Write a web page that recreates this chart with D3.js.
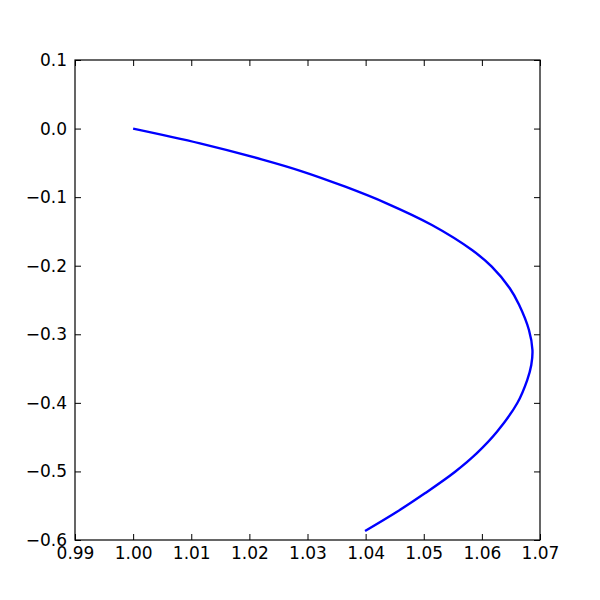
<!DOCTYPE html>
<html>
<head>
<meta charset="utf-8">
<script src="https://cdn.jsdelivr.net/npm/d3@7"></script>
<style>
  body { margin: 0; background: #fff; }
  svg text { font-family: "DejaVu Sans", sans-serif; }
</style>
</head>
<body>
<div id="chart"></div>
<script>
// Puntos (x, y)
const curveX = [1.0000, 1.0115, 1.0221, 1.0289, 1.0365, 1.0436, 1.0514, 1.0583, 1.0617, 1.0648, 1.0664,
                1.0681, 1.0687, 1.0685, 1.0678, 1.0661, 1.0626, 1.0591, 1.0554, 1.0502, 1.0454, 1.0399];
const curveY = [0.0000, -0.0215, -0.0448, -0.0619, -0.0848, -0.1090, -0.1406, -0.1771, -0.2014, -0.2329, -0.2570,
                -0.2938, -0.3229, -0.3448, -0.3667, -0.4002, -0.4421, -0.4736, -0.5004, -0.5319, -0.5588, -0.5869];
const xTicks = [0.99, 1.00, 1.01, 1.02, 1.03, 1.04, 1.05, 1.06, 1.07];
const yTicks = [0.1, 0.0, -0.1, -0.2, -0.3, -0.4, -0.5, -0.6];

const W = 600, H = 600;
const margin = { top: 60, right: 60, bottom: 60, left: 75 };
const width = W - margin.left - margin.right;
const height = H - margin.top - margin.bottom;

const svg = d3.select('#chart').append('svg')
    .attr('width', W).attr('height', H);

const g = svg.append('g')
    .attr('transform', `translate(${margin.left},${margin.top})`);

const x = d3.scaleLinear().domain([0.99, 1.07]).range([0, width]);
const y = d3.scaleLinear().domain([-0.6, 0.1]).range([height, 0]);

const tickLen = 6;

// Ejes con ticks hacia dentro
const xFmt = d3.format('.2f'), yFmt = d3.format('.1f');

const xb = g.append('g').attr('transform', `translate(0,${height})`)
    .call(d3.axisBottom(x).tickValues(xTicks).tickFormat(xFmt).tickSizeInner(-tickLen).tickSizeOuter(0).tickPadding(7));
const xt = g.append('g')
    .call(d3.axisTop(x).tickValues(xTicks).tickFormat('').tickSizeInner(-tickLen).tickSizeOuter(0));
const yl = g.append('g')
    .call(d3.axisLeft(y).tickValues(yTicks).tickFormat(yFmt).tickSizeInner(-tickLen).tickSizeOuter(0).tickPadding(8));
const yr = g.append('g').attr('transform', `translate(${width},0)`)
    .call(d3.axisRight(y).tickValues(yTicks).tickFormat('').tickSizeInner(-tickLen).tickSizeOuter(0));

[xb, xt, yl, yr].forEach(a => {
    a.select('.domain').remove();
    a.selectAll('line').attr('stroke', '#000');
    a.selectAll('text').attr('fill', '#000').attr('font-size', '17px');
});

// Curva
const pts = curveX.map((v, i) => [v, curveY[i]]);
g.append('path')
    .datum(pts)
    .attr('fill', 'none')
    .attr('stroke', '#0000ff')
    .attr('stroke-width', 2.4)
    .attr('d', d3.line().x(d => x(d[0])).y(d => y(d[1])).curve(d3.curveCatmullRom.alpha(0.5)));

// Marco
g.append('rect')
    .attr('width', width).attr('height', height)
    .attr('fill', 'none').attr('stroke', '#000').attr('stroke-width', 1.2);
</script>
</body>
</html>
